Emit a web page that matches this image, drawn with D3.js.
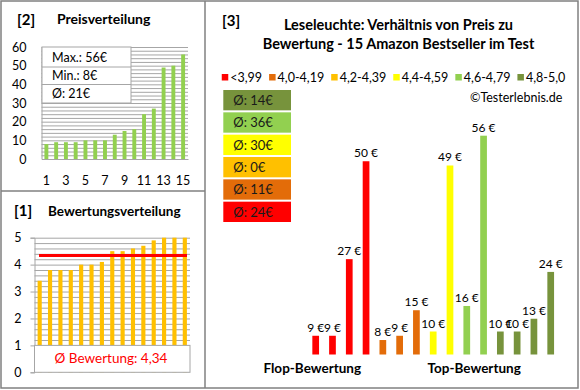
<!DOCTYPE html>
<html>
<head>
<meta charset="utf-8">
<script src="https://cdn.jsdelivr.net/npm/d3@7"></script>
<style>
  html, body { margin: 0; padding: 0; background: #fff; }
  svg { display: block; font-family: Lato, "Open Sans", sans-serif; }
</style>
</head>
<body>
<script>
// DATA
const productIndex = d3.range(1, 16);
const pricesSorted = [8, 9, 9, 9, 10, 10, 10, 13, 15, 16, 24, 27, 49, 50, 56];
const ratingsSorted = [3.4, 3.8, 3.8, 3.8, 4.0, 4.0, 4.1, 4.5, 4.5, 4.6, 4.7, 4.9, 5.0, 5.0, 5.0];
const priceStats = ["Max.: 56€", "Min.: 8€", "Ø: 21€"];
const ratingMean = 4.34;
const ratingMeanLabel = "Ø Bewertung: 4,34";

// panel 3: prices ordered by rating, with rating group of each product
const pricesByRating = [9, 9, 27, 50, 8, 9, 15, 10, 49, 16, 56, 10, 10, 13, 24];
const groupOfProduct = [0, 0, 0, 0, 1, 1, 1, 3, 3, 4, 4, 5, 5, 5, 5];
const groupLabels = ["<3,99", "4,0-4,19", "4,2-4,39", "4,4-4,59", "4,6-4,79", "4,8-5,0"];
const groupColors = ["#ff0000", "#e36c09", "#ffc000", "#ffff00", "#92d050", "#77933c"];
const groupAverages = [24, 11, 0, 30, 36, 14];

const W = 580, H = 390;
const gridColor = "#a6a6a6";

const svg = d3.select("body").append("svg").attr("width", W).attr("height", H);

// FRAME
svg.append("rect").attr("x", 1).attr("y", 1).attr("width", 577).attr("height", 387)
  .attr("fill", "none").attr("stroke", "#808080").attr("stroke-width", 1.5);
svg.append("line").attr("x1", 205).attr("x2", 205).attr("y1", 1).attr("y2", 388)
  .attr("stroke", "#808080").attr("stroke-width", 1.5);
svg.append("line").attr("x1", 1).attr("x2", 205).attr("y1", 191).attr("y2", 191)
  .attr("stroke", "#808080").attr("stroke-width", 1.5);

const title = (x, y, txt, size) => svg.append("text").attr("x", x).attr("y", y)
  .attr("font-size", size).attr("font-weight", "bold").text(txt);

// PANEL [2] PREISVERTEILUNG
title(17, 25, "[2]", 15);
title(57, 24, "Preisverteilung", 14);

const x2 = d3.scaleBand().domain(productIndex).range([41.5, 188]).paddingInner(0.6).paddingOuter(0.3);
const y2 = d3.scaleLinear().domain([0, 60]).range([159, 47]);

const p2 = svg.append("g");
p2.append("g").attr("transform", "translate(41.5,0)")
  .call(d3.axisLeft(y2).tickValues(d3.range(2, 61, 2)).tickSize(-146.5).tickFormat(""))
  .call(g => g.select(".domain").remove())
  .call(g => g.selectAll("line").attr("stroke", gridColor));

p2.selectAll("rect.bar").data(pricesSorted).enter().append("rect")
  .attr("class", "bar")
  .attr("x", (d, i) => x2(productIndex[i]))
  .attr("width", x2.bandwidth())
  .attr("y", d => y2(d))
  .attr("height", d => y2(0) - y2(d))
  .attr("fill", "#92d050");

p2.append("g").attr("transform", "translate(41.5,0)")
  .call(d3.axisLeft(y2).tickValues(d3.range(0, 61, 10)).tickSize(0).tickPadding(15))
  .call(g => g.select(".domain").attr("stroke", gridColor))
  .call(g => g.selectAll("text").attr("font-size", 12.5).attr("fill", "#000").attr("font-family", "Lato"));

p2.append("g").attr("transform", "translate(0,159)")
  .call(d3.axisBottom(x2).tickValues(productIndex.filter(d => d % 2 === 1)).tickSize(0).tickPadding(17))
  .call(g => g.select(".domain").attr("stroke", gridColor))
  .call(g => g.selectAll("text").attr("font-size", 12.5).attr("fill", "#000").attr("font-family", "Lato"));

// stats box
const statRows = [[47, 67], [67, 84.5], [84.5, 103]];
const statBox = p2.append("g");
statBox.append("rect").attr("x", 42).attr("y", 47).attr("width", 89).attr("height", 56)
  .attr("fill", "#fff").attr("stroke", gridColor);
statBox.selectAll("line").data(statRows.slice(1)).enter().append("line")
  .attr("x1", 42).attr("x2", 131).attr("y1", d => d[0]).attr("y2", d => d[0])
  .attr("stroke", gridColor);
statBox.selectAll("text").data(priceStats).enter().append("text")
  .attr("x", 52).attr("y", (d, i) => (statRows[i][0] + statRows[i][1]) / 2 + 4.5)
  .attr("font-size", 12.5).text(d => d);

// PANEL [1] BEWERTUNGSVERTEILUNG
title(14, 216, "[1]", 15);
title(48, 216, "Bewertungsverteilung", 13.5);

const x1 = d3.scaleBand().domain(productIndex).range([34.5, 190]).paddingInner(0.6).paddingOuter(0.3);
const y1 = d3.scaleLinear().domain([0, 5]).range([372.3, 237.7]);

const p1 = svg.append("g");
p1.append("g").attr("transform", "translate(34.5,0)")
  .call(d3.axisLeft(y1).tickValues(d3.range(1, 26).map(d => d / 5)).tickSize(-155.5).tickFormat(""))
  .call(g => g.select(".domain").remove())
  .call(g => g.selectAll("line").attr("stroke", gridColor));

p1.selectAll("rect.bar").data(ratingsSorted).enter().append("rect")
  .attr("class", "bar")
  .attr("x", (d, i) => x1(productIndex[i]))
  .attr("width", x1.bandwidth())
  .attr("y", d => y1(d))
  .attr("height", d => y1(0) - y1(d))
  .attr("fill", "#ffc000");

p1.append("line")
  .attr("x1", 39).attr("x2", 187)
  .attr("y1", y1(ratingMean)).attr("y2", y1(ratingMean))
  .attr("stroke", "#ff0000").attr("stroke-width", 3);

p1.append("g").attr("transform", "translate(34.5,0)")
  .call(d3.axisLeft(y1).ticks(5).tickSize(4).tickPadding(9))
  .call(g => g.select(".domain").attr("stroke", gridColor))
  .call(g => g.selectAll("line").attr("stroke", gridColor))
  .call(g => g.selectAll("text").attr("font-size", 12.5).attr("fill", "#000").attr("font-family", "Lato"));

p1.append("rect").attr("x", 34.5).attr("y", y1(1)).attr("width", 155.5).attr("height", y1(0) - y1(1))
  .attr("fill", "#fff").attr("stroke", gridColor);
p1.append("text").attr("x", 111).attr("y", 363).attr("text-anchor", "middle")
  .attr("font-size", 13.5).attr("fill", "#ff0000").text(ratingMeanLabel);

// PANEL [3] PREIS ZU BEWERTUNG
title(222, 26, "[3]", 15);
svg.append("g").selectAll("text")
  .data(["Leseleuchte: Verhältnis von Preis zu", "Bewertung - 15 Amazon Bestseller im Test"])
  .enter().append("text")
  .attr("x", 398.5).attr("y", (d, i) => 30 + i * 19)
  .attr("text-anchor", "middle").attr("font-size", 14.5).attr("font-weight", "bold")
  .text(d => d);

// legend, laid out from measured text widths and centred
const legend = svg.append("g");
const items = legend.selectAll("g").data(groupLabels).enter().append("g");
items.append("rect").attr("width", 6.5).attr("height", 6.5).attr("y", 74)
  .attr("fill", (d, i) => groupColors[i]);
items.append("text").attr("x", 8.5).attr("y", 81.5).attr("font-size", 12.5).text(d => d);
let cursor = 0;
items.each(function () {
  d3.select(this).attr("transform", `translate(${cursor},0)`);
  cursor += 8.5 + d3.select(this).select("text").node().getComputedTextLength() + 7;
});
legend.attr("transform", `translate(${393.5 - (cursor - 7) / 2},0)`);

// average boxes, top = best group
const avgOrder = d3.range(groupLabels.length).reverse();
const yAvg = d3.scaleBand().domain(avgOrder).range([90, 222]).paddingInner(0.09);
const avgBoxes = svg.append("g").selectAll("g").data(avgOrder).enter().append("g")
  .attr("transform", d => `translate(223.3,${yAvg(d)})`);
avgBoxes.append("rect").attr("width", 67.7).attr("height", yAvg.bandwidth())
  .attr("fill", d => groupColors[d]);
avgBoxes.append("text").attr("x", 10).attr("y", yAvg.bandwidth() / 2 + 5)
  .attr("font-size", 13).attr("fill", "#1a1a1a").text(d => `Ø: ${groupAverages[d]}€`);

svg.append("text").attr("x", 470).attr("y", 102).attr("font-size", 12.5).text("©Testerlebnis.de");

const x3 = d3.scaleBand().domain(productIndex).range([307.3, 559.1]).paddingInner(0.6).paddingOuter(0.3);
const y3 = d3.scaleLinear().domain([4.6, 56]).range([354.5, 135.7]);

const p3 = svg.append("g");
p3.selectAll("rect").data(pricesByRating).enter().append("rect")
  .attr("x", (d, i) => x3(productIndex[i]))
  .attr("width", x3.bandwidth())
  .attr("y", d => y3(d))
  .attr("height", d => y3(4.6) - y3(d))
  .attr("fill", (d, i) => groupColors[groupOfProduct[i]]);
p3.selectAll("text").data(pricesByRating).enter().append("text")
  .attr("x", (d, i) => x3(productIndex[i]) + x3.bandwidth() / 2)
  .attr("y", d => y3(d) - 4)
  .attr("text-anchor", "middle").attr("font-size", 12)
  .text(d => `${d} €`);

svg.append("text").attr("x", 312.3).attr("y", 373).attr("text-anchor", "middle")
  .attr("font-size", 13.5).attr("font-weight", "bold").text("Flop-Bewertung");
svg.append("text").attr("x", 474.2).attr("y", 373).attr("text-anchor", "middle")
  .attr("font-size", 13.5).attr("font-weight", "bold").text("Top-Bewertung");
</script>
</body>
</html>
